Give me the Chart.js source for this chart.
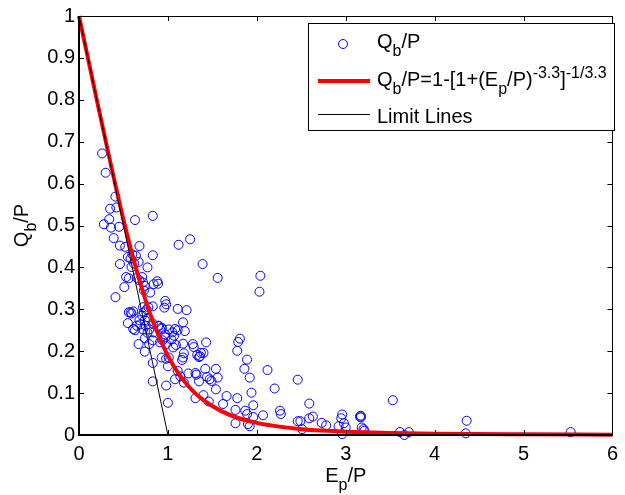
<!DOCTYPE html>
<html><head><meta charset="utf-8">
<script src="https://cdn.jsdelivr.net/npm/chart.js@4.4.0/dist/chart.umd.min.js"></script>
<style>html,body{margin:0;padding:0;background:#fff}</style>
</head><body>
<canvas id="c" width="625" height="495"></canvas>
<script>
// Measured data: E_p/P (x) and Q_b/P (y)
const ratioX = [0.26,0.30,0.41,0.35,0.42,0.34,0.28,0.36,0.45,0.63,0.83,0.39,0.46,0.52,0.68,0.55,0.60,0.58,0.64,0.67,
0.83,0.46,0.77,0.62,0.59,1.12,1.25,1.39,1.56,2.04,2.03,0.53,0.56,0.51,0.65,0.68,0.72,0.74,0.73,0.80,
0.84,0.89,0.71,0.88,0.41,0.97,0.98,0.96,1.11,1.21,0.78,0.83,0.76,0.72,0.56,0.58,0.61,0.59,0.73,0.71,
0.78,0.68,0.74,0.55,0.69,0.75,0.83,0.89,0.93,0.61,0.65,0.63,0.72,0.79,0.84,0.77,0.90,1.01,1.05,1.08,
1.11,1.17,1.19,0.97,0.93,0.74,0.83,0.91,0.98,0.79,0.67,0.94,0.97,1.04,1.07,1.09,1.06,1.17,1.28,1.29,
1.43,0.74,1.37,1.40,1.36,1.81,1.79,1.78,0.93,0.98,1.01,1.18,1.17,1.16,1.35,1.33,0.83,1.89,1.00,1.11,
1.14,1.18,1.08,1.23,1.31,1.32,1.42,1.44,1.47,1.49,1.54,1.56,1.35,1.86,1.92,2.12,0.83,0.98,1.00,1.54,
1.31,1.40,1.46,1.66,1.62,1.78,1.76,1.76,1.87,1.90,1.94,1.96,1.89,2.20,2.46,1.96,2.07,2.26,2.27,2.59,
2.46,2.49,2.51,2.59,2.63,2.73,2.78,2.96,2.95,2.92,2.96,2.98,3.00,3.16,3.17,3.17,3.18,3.21,3.20,3.53,
3.61,3.66,3.71,4.36,4.35,5.53,1.92];
const ratioY = [0.672,0.626,0.569,0.540,0.543,0.515,0.503,0.495,0.497,0.513,0.523,0.470,0.452,0.449,0.451,0.425,0.431,0.421,0.428,0.413,
0.429,0.408,0.400,0.409,0.401,0.454,0.467,0.408,0.375,0.380,0.342,0.377,0.374,0.353,0.375,0.369,0.364,0.356,0.345,0.340,
0.360,0.361,0.377,0.367,0.329,0.320,0.312,0.304,0.301,0.298,0.305,0.307,0.299,0.305,0.293,0.293,0.295,0.290,0.293,0.285,
0.280,0.274,0.274,0.267,0.264,0.261,0.266,0.261,0.253,0.253,0.261,0.250,0.252,0.252,0.245,0.244,0.260,0.252,0.245,0.253,
0.250,0.269,0.248,0.240,0.256,0.231,0.226,0.221,0.217,0.217,0.217,0.226,0.233,0.228,0.237,0.215,0.209,0.218,0.217,0.210,
0.221,0.199,0.196,0.196,0.188,0.230,0.222,0.201,0.185,0.182,0.185,0.195,0.185,0.179,0.186,0.191,0.172,0.180,0.164,0.153,
0.140,0.125,0.133,0.147,0.148,0.144,0.158,0.139,0.133,0.129,0.158,0.137,0.128,0.158,0.137,0.155,0.128,0.118,0.077,0.109,
0.088,0.095,0.080,0.093,0.074,0.088,0.060,0.028,0.058,0.026,0.101,0.071,0.050,0.111,0.132,0.043,0.047,0.058,0.050,0.075,
0.033,0.033,0.014,0.040,0.044,0.029,0.023,0.049,0.040,0.021,0.002,0.028,0.018,0.044,0.046,0.042,0.018,0.010,0.014,0.083,
0.007,0.000,0.007,0.034,0.004,0.007,0.021];
// Fitted curve
const fitX = [0,0.1,0.2,0.3,0.4,0.5,0.6,0.7,0.8,0.9,1.0,1.1,1.2,1.3,1.4,1.6,1.8,2.0,2.25,2.5,2.75,3.0,3.5,4.0,5.0,6.0];
const fitY = [1,0.900,0.800,0.702,0.606,0.514,0.430,0.355,0.289,0.235,0.189,0.153,0.124,0.101,0.083,0.057,0.040,0.029,0.020,0.014,0.0105,0.008,0.005,0.003,0.0015,0.0008];
// Limit lines
const limitX = [0,1,6];
const limitY = [1,0,0];
// Axis ticks
const xTicks = [0,1,2,3,4,5,6];
const yTicks = [0,0.1,0.2,0.3,0.4,0.5,0.6,0.7,0.8,0.9,1];

const FONT = '"Liberation Sans", Arial, Helvetica, sans-serif';

function rich(ctx, parts, x, y, size, measureOnly){
  let cx = x;
  parts.forEach(([t,k])=>{
    const s = k==='n' ? size : Math.round(size*0.78);
    const dy = k==='sub' ? size*0.42 : (k==='sup' ? -size*0.4 : 0);
    ctx.font = s+'px '+FONT;
    if(!measureOnly) ctx.fillText(t, cx, y+dy);
    cx += ctx.measureText(t).width;
  });
  return cx - x;
}

const deco = {
  id:'deco',
  afterDraw(chart){
    const ctx = chart.ctx, a = chart.chartArea, xs = chart.scales.x, ys = chart.scales.y;
    ctx.save();
    ctx.strokeStyle = '#000'; ctx.lineWidth = 1;
    ctx.beginPath();
    xTicks.forEach(v=>{
      const p = Math.round(xs.getPixelForValue(v))+0.5;
      ctx.moveTo(p,a.bottom); ctx.lineTo(p,a.bottom-5);
      ctx.moveTo(p,a.top); ctx.lineTo(p,a.top+5);
    });
    yTicks.forEach(v=>{
      const p = Math.round(ys.getPixelForValue(v))+0.5;
      ctx.moveTo(a.left,p); ctx.lineTo(a.left+5,p);
      ctx.moveTo(a.right,p); ctx.lineTo(a.right-5,p);
    });
    ctx.stroke();
    const l = Math.round(a.left), t = Math.round(a.top), r = Math.round(a.right), b = Math.round(a.bottom);
    ctx.beginPath();
    ctx.moveTo(l, t+0.5); ctx.lineTo(r+0.5, t+0.5); ctx.lineTo(r+0.5, b);
    ctx.stroke();
    ctx.lineWidth = 2;
    ctx.beginPath();
    ctx.moveTo(l, t); ctx.lineTo(l, b); ctx.lineTo(r+1, b);
    ctx.stroke();

    // axis titles
    ctx.fillStyle = '#000';
    ctx.textBaseline = 'alphabetic';
    ctx.textAlign = 'left';
    const xt = [['E','n'],['p','sub'],['/P','n']];
    const wx = rich(ctx, xt, 0, 0, 20, true);
    rich(ctx, xt, (a.left+a.right)/2 - wx/2, 482, 20);
    const yt = [['Q','n'],['b','sub'],['/P','n']];
    const wy = rich(ctx, yt, 0, 0, 20, true);
    ctx.save();
    ctx.translate(28, (a.top+a.bottom)/2);
    ctx.rotate(-Math.PI/2);
    rich(ctx, yt, -wy/2, 0, 20);
    ctx.restore();

    // legend
    const L = 308.5, T = 23.5, R = 614.5, B = 130.5;
    ctx.fillStyle = '#fff';
    ctx.fillRect(L, T, R-L, B-T);
    ctx.strokeStyle = '#000'; ctx.lineWidth = 1;
    ctx.strokeRect(L, T, R-L, B-T);
    ctx.strokeStyle = '#0000ff';
    ctx.beginPath(); ctx.arc(343, 44, 4.5, 0, Math.PI*2); ctx.stroke();
    ctx.strokeStyle = '#ff0000'; ctx.lineWidth = 4;
    ctx.beginPath(); ctx.moveTo(318, 81); ctx.lineTo(370, 81); ctx.stroke();
    ctx.strokeStyle = '#000'; ctx.lineWidth = 1;
    ctx.beginPath(); ctx.moveTo(318, 114.5); ctx.lineTo(370, 114.5); ctx.stroke();
    ctx.fillStyle = '#000';
    rich(ctx, [['Q','n'],['b','sub'],['/P','n']], 377, 48, 20);
    rich(ctx, [['Q','n'],['b','sub'],['/P=1-[1+(E','n'],['p','sub'],['/P)','n'],['-3.3','sup'],[']','n'],['-1/3.3','sup']], 377, 86, 20);
    rich(ctx, [['Limit Lines','n']], 377, 122.5, 20);
    ctx.restore();
  }
};

new Chart(document.getElementById('c').getContext('2d'), {
  type:'scatter',
  data:{datasets:[
    {label:'Limit Lines', data: limitX.map((x,i)=>({x, y:limitY[i]})), showLine:true, borderColor:'#000', borderWidth:1, pointRadius:0, order:0, fill:false, clip:5},
    {label:'Fit', data: fitX.map((x,i)=>({x, y:fitY[i]})), showLine:true, borderColor:'#ff0000', borderWidth:4, pointRadius:0, order:1, fill:false, cubicInterpolationMode:'monotone', clip:5},
    {label:'Qb/P', data: ratioX.map((x,i)=>({x, y:ratioY[i]})), showLine:false, pointStyle:'circle', pointRadius:4.5, pointBorderColor:'#0000ff', pointBackgroundColor:'rgba(0,0,0,0)', pointBorderWidth:1, order:2, clip:10}
  ]},
  options:{
    responsive:false, animation:false, devicePixelRatio:1,
    layout:{padding:{top:15, right:6, left:0, bottom:0}},
    plugins:{legend:{display:false}, tooltip:{enabled:false}},
    scales:{
      x:{type:'linear', min:0, max:6,
        afterBuildTicks: s=>{ s.ticks = xTicks.map(v=>({value:v})); },
        afterFit: s=>{ s.height = 60; },
        grid:{display:false, drawTicks:false}, border:{display:false},
        ticks:{color:'#000', font:{size:20, family:FONT}, padding:7, maxRotation:0, callback:v=>String(v)}},
      y:{type:'linear', min:0, max:1,
        afterBuildTicks: s=>{ s.ticks = yTicks.map(v=>({value:v})); },
        afterFit: s=>{ s.width = 79; },
        grid:{display:false, drawTicks:false}, border:{display:false},
        ticks:{color:'#000', font:{size:20, family:FONT}, padding:4, callback:v=>String(Number(v.toFixed(1)))}}
    }
  },
  plugins:[deco]
});
</script>
</body></html>
